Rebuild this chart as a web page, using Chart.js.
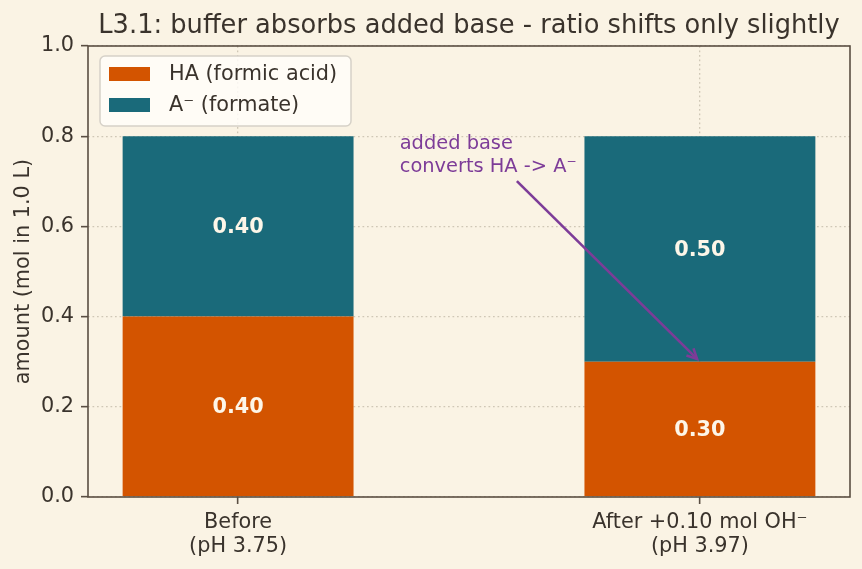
<!DOCTYPE html>
<html><head><meta charset="utf-8">
<script src="https://cdn.jsdelivr.net/npm/chart.js@4.4.1/dist/chart.umd.min.js"></script>
<style>html,body{margin:0;padding:0;background:#faf3e4;} #wrap{width:862px;height:569px;}</style>
</head><body><div id="wrap"><canvas id="c" width="862" height="569"></canvas></div>
<script>
// ---- data ----
const categories = [['Before', '(pH 3.75)'], ['After +0.10 mol OH\u207B', '(pH 3.97)']];
const categoryPositions = [0, 1];
const haValues = [0.40, 0.30];
const aValues = [0.40, 0.50];
const yTickValues = [0.0, 0.2, 0.4, 0.6, 0.8, 1.0];
const seriesLabels = ['HA (formic acid)', 'A\u207B (formate)'];
const titleText = 'L3.1: buffer absorbs added base - ratio shifts only slightly';
const yAxisLabel = 'amount (mol in 1.0 L)';
const annotationLines = ['added base', 'converts HA -> A\u207B'];
const annotationTextAt = [0.35, 0.72];
const annotationTarget = [1.0, 0.30];

// ---- styles ----
const BG = '#faf3e4';
const TEXT = '#3a332c';
const SPINE = '#5a4e42';
const ORANGE = '#d35400';
const TEAL = '#1a6a7a';
const PURPLE = '#7d3c98';
const FONT = "'DejaVu Sans', sans-serif";
const FS = 20.8;

const bgPlugin = {
  id: 'bg',
  beforeDraw(chart) {
    const ctx = chart.ctx;
    ctx.save(); ctx.fillStyle = BG; ctx.fillRect(0, 0, chart.width, chart.height); ctx.restore();
  }
};

const overlayPlugin = {
  id: 'overlay',
  afterDraw(chart) {
    const ctx = chart.ctx;
    const ca = chart.chartArea;
    const xs = chart.scales.x, ys = chart.scales.y;
    ctx.save();
    // value labels
    ctx.font = 'bold ' + FS + 'px ' + FONT;
    ctx.fillStyle = '#fdf6e8';
    ctx.textAlign = 'center'; ctx.textBaseline = 'middle';
    chart.data.datasets.forEach((ds, di) => {
      const meta = chart.getDatasetMeta(di);
      meta.data.forEach((el, i) => {
        const v = ds.data[i].y;
        ctx.fillText(v.toFixed(2), el.x, (el.y + el.base) / 2 + 1.5);
      });
    });
    // spines
    ctx.strokeStyle = SPINE; ctx.lineWidth = 1.6;
    ctx.strokeRect(ca.left, ca.top, ca.right - ca.left, ca.bottom - ca.top);
    // title
    ctx.fillStyle = TEXT; ctx.font = '25.7px ' + FONT;
    ctx.textAlign = 'center'; ctx.textBaseline = 'alphabetic';
    ctx.fillText(titleText, (ca.left + ca.right) / 2, 33);
    // annotation
    const tx = xs.getPixelForValue(annotationTextAt[0]);
    const ty = ys.getPixelForValue(annotationTextAt[1]);
    ctx.font = '19.4px ' + FONT; ctx.fillStyle = PURPLE; ctx.textAlign = 'left';
    const lh = 23;
    annotationLines.forEach((l, i) => {
      ctx.fillText(l, tx, ty - (annotationLines.length - 1 - i) * lh);
    });
    const w = 184;
    const boxTop = ty - (annotationLines.length - 1) * lh - 15;
    const boxBot = ty + 6;
    const cx = tx + w / 2, cy = (boxTop + boxBot) / 2;
    const px = xs.getPixelForValue(annotationTarget[0]);
    const py = ys.getPixelForValue(annotationTarget[1]);
    const dx = px - cx, dy = py - cy, len = Math.hypot(dx, dy);
    const ux = dx / len, uy = dy / len;
    const tStart = (boxBot - cy) / uy + 4;
    const sx = cx + ux * tStart, sy = cy + uy * tStart;
    const ex = px - ux * 4, ey = py - uy * 4;
    ctx.strokeStyle = PURPLE; ctx.lineWidth = 2.6; ctx.lineCap = 'butt';
    ctx.beginPath(); ctx.moveTo(sx, sy); ctx.lineTo(ex, ey); ctx.stroke();
    const hl = 10, hw = 5;
    ctx.beginPath();
    ctx.moveTo(ex - ux * hl - uy * hw, ey - uy * hl + ux * hw);
    ctx.lineTo(ex, ey);
    ctx.lineTo(ex - ux * hl + uy * hw, ey - uy * hl - ux * hw);
    ctx.stroke();
    // legend
    const lx = ca.left + 12, ly = ca.top + 10;
    const lw = 251, lhgt = 70;
    ctx.beginPath();
    if (ctx.roundRect) ctx.roundRect(lx, ly, lw, lhgt, 5); else ctx.rect(lx, ly, lw, lhgt);
    ctx.fillStyle = 'rgba(255,253,249,0.85)'; ctx.fill();
    ctx.strokeStyle = '#d6d1c8'; ctx.lineWidth = 1.5; ctx.stroke();
    ctx.font = FS + 'px ' + FONT; ctx.textAlign = 'left'; ctx.textBaseline = 'middle';
    chart.data.datasets.forEach((ds, i) => {
      const rowY = ly + 18 + i * 31;
      ctx.fillStyle = ds.backgroundColor;
      ctx.fillRect(lx + 9, rowY - 7, 41, 14);
      ctx.fillStyle = TEXT;
      ctx.fillText(ds.label, lx + 69, rowY + 1);
    });
    ctx.restore();
  }
};

const gridDash = [1.7, 2.8];
new Chart(document.getElementById('c'), {
  type: 'bar',
  data: {
    datasets: [
      { label: seriesLabels[0], data: categoryPositions.map((x, i) => ({ x, y: haValues[i] })), backgroundColor: ORANGE, borderWidth: 0 },
      { label: seriesLabels[1], data: categoryPositions.map((x, i) => ({ x, y: aValues[i] })), backgroundColor: TEAL, borderWidth: 0 }
    ]
  },
  options: {
    responsive: false,
    animation: false,
    layout: { padding: { top: 46, right: 12, left: 0, bottom: 0 } },
    datasets: { bar: { categoryPercentage: 1.0, barPercentage: 0.5 } },
    plugins: { legend: { display: false }, title: { display: false }, tooltip: { enabled: false } },
    scales: {
      x: {
        type: 'linear', stacked: true, min: -0.325, max: 1.325, z: 1, offset: false,
        afterFit(s) { s.height = 72; },
        afterBuildTicks(s) { s.ticks = categoryPositions.map(v => ({ value: v })); },
        ticks: {
          callback: (v) => categories[categoryPositions.indexOf(v)] || '',
          color: TEXT, font: { family: FONT, size: FS, lineHeight: 1.15 }, padding: 7, maxRotation: 0, autoSkip: false
        },
        grid: { offset: false, color: 'rgba(120,108,88,0.33)', lineWidth: 1.3, tickColor: SPINE, tickLength: 7, tickWidth: 1.6 },
        border: { display: false, dash: gridDash }
      },
      y: {
        type: 'linear', stacked: true, min: 0, max: 1, z: 1,
        afterFit(s) { s.width = 88; },
        afterBuildTicks(s) { s.ticks = yTickValues.map(v => ({ value: v })); },
        ticks: { callback: (v) => Number(v).toFixed(1), color: TEXT, font: { family: FONT, size: FS }, padding: 7 },
        grid: { color: 'rgba(120,108,88,0.33)', lineWidth: 1.3, tickColor: SPINE, tickLength: 7, tickWidth: 1.6 },
        border: { display: false, dash: gridDash },
        title: { display: true, text: yAxisLabel, color: TEXT, font: { family: FONT, size: FS }, padding: { top: 11, bottom: 0 } }
      }
    }
  },
  plugins: [bgPlugin, overlayPlugin]
});
</script>
</body></html>
